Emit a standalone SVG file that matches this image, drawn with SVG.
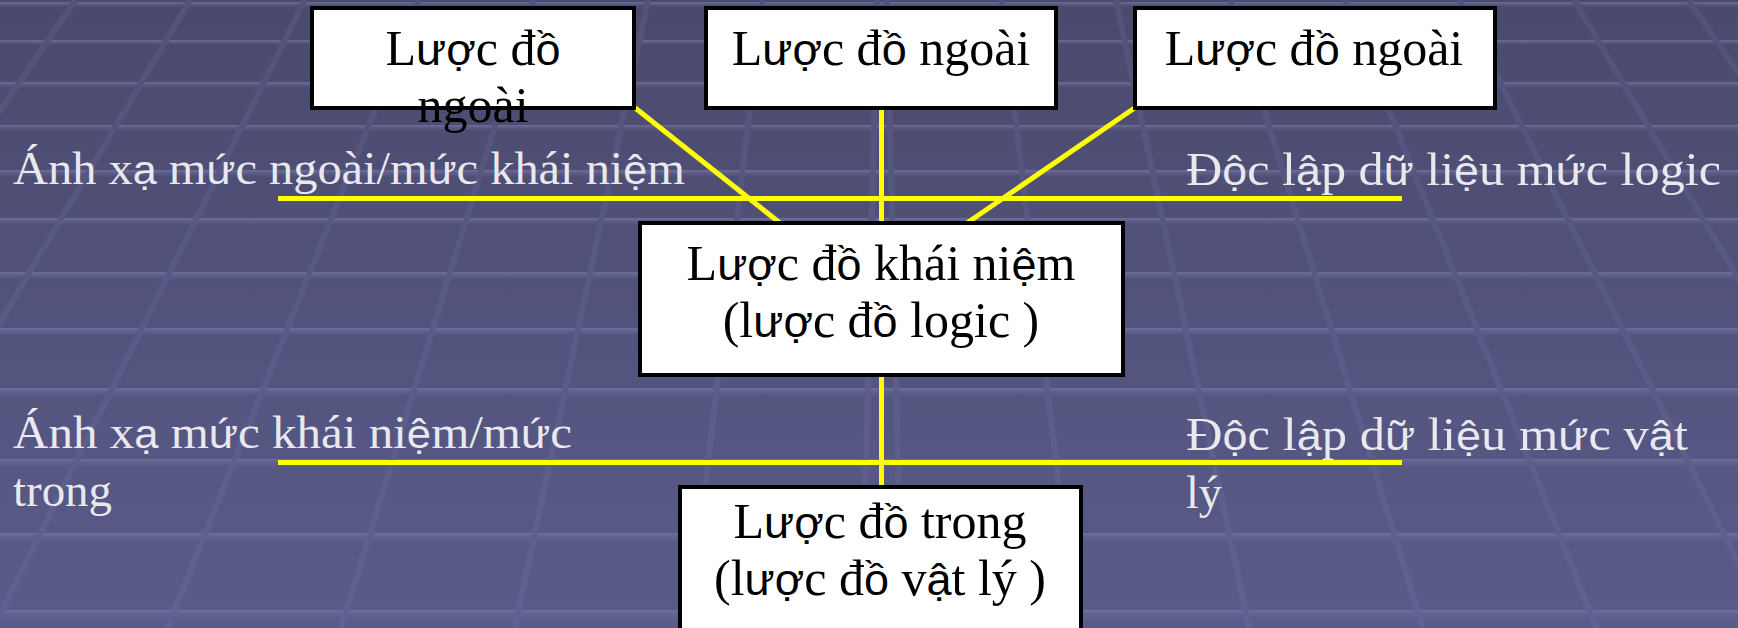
<svg xmlns="http://www.w3.org/2000/svg" width="1738" height="628" viewBox="0 0 1738 628">
  <defs>
    <linearGradient id="bg" x1="0" y1="0" x2="0" y2="1">
      <stop offset="0" stop-color="#4a4a6d"/>
      <stop offset="1" stop-color="#5a5b8a"/>
    </linearGradient>
    <linearGradient id="band" x1="0" y1="0" x2="0" y2="1">
      <stop offset="0" stop-color="#7474a2" stop-opacity="0.85"/>
      <stop offset="0.4" stop-color="#6a6a98" stop-opacity="0.55"/>
      <stop offset="1" stop-color="#6a6a98" stop-opacity="0"/>
    </linearGradient>
    <linearGradient id="seam" gradientUnits="userSpaceOnUse" x1="0" y1="0" x2="0" y2="628">
      <stop offset="0" stop-color="#52527a"/>
      <stop offset="1" stop-color="#606292"/>
    </linearGradient>
    <style>
      .band rect { fill: url(#band); }
      .seam line { stroke: url(#seam); stroke-width: 6; }
      .node rect { fill: #ffffff; stroke: #000000; stroke-width: 4; }
      .t { font-family: "Liberation Serif", "Times New Roman", serif; font-size: 50px; fill: #000000; text-anchor: middle; }
      .v { font-family: "Liberation Sans", Arial, sans-serif; font-size: 45px; }
      .lbl { font-family: "Liberation Serif", "Times New Roman", serif; font-size: 46px; fill: #e8e8ee; }
      .lbl .v { font-size: 41px; }
      #connectors line { stroke: #ffff00; stroke-width: 5; }
    </style>
  </defs>

  <!-- tiled floor background -->
  <g id="background">
    <rect x="0" y="0" width="1738" height="628" fill="url(#bg)"/>
    <g class="band">
      <rect x="0" y="2" width="1738" height="5"/>
      <rect x="0" y="40" width="1738" height="5"/>
      <rect x="0" y="82" width="1738" height="6"/>
      <rect x="0" y="125" width="1738" height="6"/>
      <rect x="0" y="170" width="1738" height="7"/>
      <rect x="0" y="218" width="1738" height="7"/>
      <rect x="0" y="272" width="1738" height="8"/>
      <rect x="0" y="328" width="1738" height="8"/>
      <rect x="0" y="388" width="1738" height="9"/>
      <rect x="0" y="459" width="1738" height="9"/>
      <rect x="0" y="533" width="1738" height="10"/>
      <rect x="0" y="610" width="1738" height="11"/>
    </g>
    <g class="seam">
      <line x1="877" y1="0" x2="862.2" y2="628"/>
      <line x1="762.5" y1="0" x2="688.5" y2="628"/>
      <line x1="648" y1="0" x2="514.8" y2="628"/>
      <line x1="533.5" y1="0" x2="341.1" y2="628"/>
      <line x1="419" y1="0" x2="167.4" y2="628"/>
      <line x1="304.5" y1="0" x2="-6.3" y2="628"/>
      <line x1="190" y1="0" x2="-180" y2="628"/>
      <line x1="75.5" y1="0" x2="-353.7" y2="628"/>
      <line x1="887" y1="0" x2="901.8" y2="628"/>
      <line x1="1001.5" y1="0" x2="1075.5" y2="628"/>
      <line x1="1116" y1="0" x2="1249.2" y2="628"/>
      <line x1="1230.5" y1="0" x2="1422.9" y2="628"/>
      <line x1="1345" y1="0" x2="1596.6" y2="628"/>
      <line x1="1459.5" y1="0" x2="1770.3" y2="628"/>
      <line x1="1574" y1="0" x2="1944" y2="628"/>
      <line x1="1688.5" y1="0" x2="2117.7" y2="628"/>
    </g>
  </g>

  <!-- yellow connectors and level separators -->
  <g id="connectors">
    <line x1="278" y1="198.5" x2="1402" y2="198.5"/>
    <line x1="278" y1="462.5" x2="1402" y2="462.5"/>
    <line x1="634" y1="107" x2="780" y2="223"/>
    <line x1="881.5" y1="108" x2="881.5" y2="223"/>
    <line x1="1136" y1="107" x2="967" y2="223"/>
    <line x1="881.5" y1="375" x2="881.5" y2="489"/>
  </g>

  <g id="n-ext1" class="node">
    <rect x="312" y="8" width="322" height="100"/>
    <text class="t" x="473" y="65">L<tspan class="v">ượ</tspan>c đ<tspan class="v">ồ</tspan></text>
    <text class="t" x="473" y="122">ngoài</text>
  </g>
  <g id="n-ext2" class="node">
    <rect x="706" y="8" width="350" height="100"/>
    <text class="t" x="881" y="65">L<tspan class="v">ượ</tspan>c đ<tspan class="v">ồ</tspan> ngoài</text>
  </g>
  <g id="n-ext3" class="node">
    <rect x="1135" y="8" width="360" height="100"/>
    <text class="t" x="1314" y="65">L<tspan class="v">ượ</tspan>c đ<tspan class="v">ồ</tspan> ngoài</text>
  </g>
  <g id="n-concept" class="node">
    <rect x="640" y="223" width="483" height="152"/>
    <text class="t" x="881" y="280">L<tspan class="v">ượ</tspan>c đ<tspan class="v">ồ</tspan> khái ni<tspan class="v">ệ</tspan>m</text>
    <text class="t" x="881" y="337">(l<tspan class="v">ượ</tspan>c đ<tspan class="v">ồ</tspan> logic )</text>
  </g>
  <g id="n-internal" class="node">
    <rect x="680" y="487" width="401" height="170"/>
    <text class="t" x="880" y="538">L<tspan class="v">ượ</tspan>c đ<tspan class="v">ồ</tspan> trong</text>
    <text class="t" x="880" y="595">(l<tspan class="v">ượ</tspan>c đ<tspan class="v">ồ</tspan> v<tspan class="v">ậ</tspan>t lý )</text>
  </g>

  <!-- level captions -->
  <g id="labels" class="lbl">
    <text x="13" y="184" textLength="672" lengthAdjust="spacingAndGlyphs">Ánh x<tspan class="v">ạ</tspan> m<tspan class="v">ứ</tspan>c ngoài/m<tspan class="v">ứ</tspan>c khái ni<tspan class="v">ệ</tspan>m</text>
    <text x="1186" y="185" textLength="535" lengthAdjust="spacingAndGlyphs">Đ<tspan class="v">ộ</tspan>c l<tspan class="v">ậ</tspan>p d<tspan class="v">ữ</tspan> li<tspan class="v">ệ</tspan>u m<tspan class="v">ứ</tspan>c logic</text>
    <text x="13" y="448" textLength="559" lengthAdjust="spacingAndGlyphs">Ánh x<tspan class="v">ạ</tspan> m<tspan class="v">ứ</tspan>c khái ni<tspan class="v">ệ</tspan>m/m<tspan class="v">ứ</tspan>c</text>
    <text x="13" y="506" textLength="99" lengthAdjust="spacingAndGlyphs">trong</text>
    <text x="1186" y="450" textLength="502" lengthAdjust="spacingAndGlyphs">Đ<tspan class="v">ộ</tspan>c l<tspan class="v">ậ</tspan>p d<tspan class="v">ữ</tspan> li<tspan class="v">ệ</tspan>u m<tspan class="v">ứ</tspan>c v<tspan class="v">ậ</tspan>t</text>
    <text x="1186" y="508" textLength="36" lengthAdjust="spacingAndGlyphs">lý</text>
  </g>
</svg>
